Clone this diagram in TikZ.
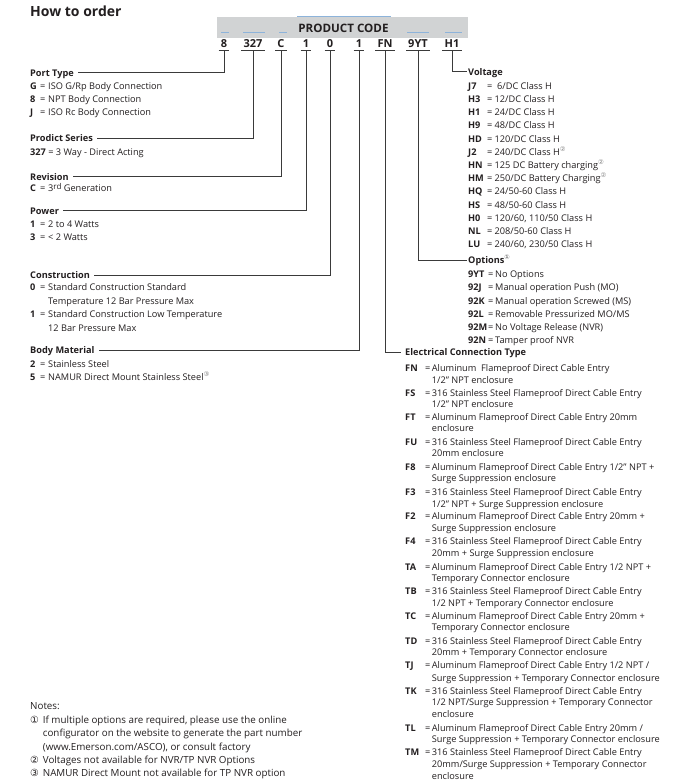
\documentclass[tikz,border=0pt]{standalone}
\usepackage{fontspec}
\setmainfont{Open Sans}
\newfontfamily\cfont{DejaVu Sans}
\definecolor{ink}{HTML}{231F20}
\definecolor{linec}{HTML}{3A3A3A}
\definecolor{band}{HTML}{D1D3D4}
\definecolor{bluel}{HTML}{8DB3DA}
\newcommand\fs{\fontsize{9.2}{11}\selectfont}
\newcommand\fsn{\fontsize{9.8}{11}\selectfont}
\newcommand\cn[1]{\textsuperscript{\textcolor{gray}{\cfont #1}}}
% name, xcode, xeq, xtext, ycenter, code, text
\newcommand\rowe[7]{%
  \node[cd] (#1c) at (#2,{#5+3.5}) {#6};
  \node[tx] (#1e) at (#3,{#5+3.5}) {=};
  \node[tx] (#1t) at (#4,{#5+3.5}) {#7};}
% name, x, ycenter, text
\newcommand\conte[4]{\node[tx] (#1) at (#2,{#3+3.5}) {#4};}
\newcommand\notee[4]{\node[tx, font=\fsn] (#1) at (#2,{#3+3.6}) {#4};}
% name, x, ycenter, text (bold label)
\newcommand\labe[4]{\node[lab] (#1) at (#2,{#3+3.35}) {#4};}
% code char: name, x center, text
\newcommand\codech[3]{\node[cc] (#1) at (#2,48) {#3};
  \draw[conn] ([yshift=-2.7pt]#1.base west) -- ([yshift=-2.7pt]#1.base east);
  \coordinate (#1u) at ([yshift=-2.7pt]#1.base);}
\begin{document}
\begin{tikzpicture}[x=1pt,y=-1pt,
  tx/.style={anchor=base west, inner sep=0pt, font=\fs, text=ink},
  cd/.style={tx, font=\fs\bfseries},
  lab/.style={anchor=base west, inner sep=0pt, font=\fs\bfseries, text=ink, text height=6.7pt, text depth=0pt},
  cc/.style={anchor=base, inner xsep=2pt, inner ysep=0pt, font=\fontsize{11}{12}\selectfont\bfseries, text=ink},
  conn/.style={draw=linec, line width=0.9pt},
  bl/.style={draw=bluel, line width=0.9pt}]
\useasboundingbox (0,0) rectangle (680,784);
\fill[white] (0,0) rectangle (680,784);

% title
\node[anchor=base west, inner sep=0pt, font=\fontsize{14}{16}\selectfont\bfseries, text=ink] (title) at (30,17) {How to order};

% product code band
\fill[band] (217,17) rectangle (468,38);
\draw[bl] (297,16) -- (391,16);
\foreach \a/\b in {221/229,243/265,279/287,407/429,445/462} \draw[bl] (\a,32) -- (\b,32);
\node[font=\fontsize{11.6}{13}\selectfont\bfseries, text=ink, inner sep=0pt, anchor=base] (pc) at (343.5,33) {PRODUCT CODE};

% code characters
\codech{k8}{224}{8}
\codech{k327}{253}{327}
\codech{kC}{281}{C}
\codech{kP}{306}{1}
\codech{kZ}{330}{0}
\codech{kB}{359}{1}
\codech{kFN}{385}{FN}
\codech{kYT}{418}{9YT}
\codech{kH}{452}{H1}

% left column
\labe{lport}{30}{72.7}{Port Type}
\rowe{pg}{30}{40}{48}{85.7}{G}{ISO G/Rp Body Connection}
\rowe{p8}{30}{40}{48}{98.7}{8}{NPT Body Connection}
\rowe{pj}{30}{40}{48}{111.7}{J}{ISO Rc Body Connection}

\labe{lser}{30}{138}{Prodict Series}
\node[tx] (s327) at (30,{151.7+3.5}) {\textbf{327} = 3 Way - Direct Acting};

\labe{lrev}{30}{176.7}{Revision}
\rowe{rc}{30}{40}{48}{187.7}{C}{3\raisebox{2pt}{\fontsize{8}{9}\selectfont rd} Generation}

\labe{lpow}{30}{210.7}{Power}
\rowe{w1}{30}{40}{48}{223.7}{1}{2 to 4 Watts}
\rowe{w3}{30}{40}{48}{237.3}{3}{< 2 Watts}

\labe{lcon}{30}{275}{Construction}
\rowe{c0}{30}{40}{48}{286.7}{0}{Standard Construction Standard}
\conte{c0b}{48}{300.7}{Temperature 12 Bar Pressure Max}
\rowe{c1}{30}{40}{48}{314.3}{1}{Standard Construction Low Temperature}
\conte{c1b}{48}{327.7}{12 Bar Pressure Max}

\labe{lbody}{30}{350}{Body Material}
\rowe{b2}{30}{40}{48}{364.3}{2}{Stainless Steel}
\rowe{b5}{30}{40}{48}{377.3}{5}{NAMUR Direct Mount Stainless Steel\cn{③}}

% voltage
\labe{lvolt}{468}{71.7}{Voltage}
\rowe{vJ7}{468}{487}{494.5}{85.7}{J7}{\hspace{2.5pt}6/DC Class H}
\rowe{vH3}{468}{487}{494.5}{98.9}{H3}{12/DC Class H}
\rowe{vH1}{468}{487}{494.5}{112.1}{H1}{24/DC Class H}
\rowe{vH9}{468}{487}{494.5}{125.3}{H9}{48/DC Class H}
\rowe{vHD}{468}{487}{494.5}{138.5}{HD}{120/DC Class H}
\rowe{vJ2}{468}{487}{494.5}{151.7}{J2}{240/DC Class H\cn{②}}
\rowe{vHN}{468}{487}{494.5}{164.9}{HN}{125 DC Battery charging\cn{②}}
\rowe{vHM}{468}{487}{494.5}{178.1}{HM}{250/DC Battery Charging\cn{②}}
\rowe{vHQ}{468}{487}{494.5}{191.3}{HQ}{24/50-60 Class H}
\rowe{vHS}{468}{487}{494.5}{204.5}{HS}{48/50-60 Class H}
\rowe{vH0}{468}{487}{494.5}{217.7}{H0}{120/60, 110/50 Class H}
\rowe{vNL}{468}{487}{494.5}{230.9}{NL}{208/50-60 Class H}
\rowe{vLU}{468}{487}{494.5}{244.1}{LU}{240/60, 230/50 Class H}

% options
\labe{lopt}{468}{260}{Options\cn{①}}
\rowe{o9}{468}{488}{495}{274.3}{9YT}{No Options}
\rowe{oJ}{468}{488}{495}{287.3}{92J}{Manual operation Push (MO)}
\rowe{oK}{468}{488}{495}{300.6}{92K}{Manual operation Screwed (MS)}
\rowe{oL}{468}{488}{495}{313.7}{92L}{Removable Pressurized MO/MS}
\rowe{oM}{468}{488}{495}{327}{92M}{No Voltage Release (NVR)}
\rowe{oN}{468}{488}{495}{340}{92N}{Tamper proof NVR}

% electrical connection type
\labe{lect}{405}{352}{Electrical Connection Type}
\rowe{eFN}{405}{425}{431.7}{368.3}{FN}{Aluminum\ \ Flameproof Direct Cable Entry}
\conte{eFNb}{431.7}{379.7}{1/2" NPT enclosure}
\rowe{eFS}{405}{425}{431.7}{392.7}{FS}{316 Stainless Steel Flameproof Direct Cable Entry}
\conte{eFSb}{431.7}{404.1}{1/2" NPT enclosure}
\rowe{eFT}{405}{425}{431.7}{416.9}{FT}{Aluminum Flameproof Direct Cable Entry 20mm}
\conte{eFTb}{431.7}{428.3}{enclosure}
\rowe{eFU}{405}{425}{431.7}{441.7}{FU}{316 Stainless Steel Flameproof Direct Cable Entry}
\conte{eFUb}{431.7}{453.1}{20mm enclosure}
\rowe{eF8}{405}{425}{431.7}{466.7}{F8}{Aluminum Flameproof Direct Cable Entry 1/2" NPT +}
\conte{eF8b}{431.7}{478.3}{Surge Suppression enclosure}
\rowe{eF3}{405}{425}{431.7}{492.3}{F3}{316 Stainless Steel Flameproof Direct Cable Entry}
\conte{eF3b}{431.7}{503.9}{1/2" NPT + Surge Suppression enclosure}
\rowe{eF2}{405}{425}{431.7}{516.4}{F2}{Aluminum Flameproof Direct Cable Entry 20mm +}
\conte{eF2b}{431.7}{527.8}{Surge Suppression enclosure}
\rowe{eF4}{405}{425}{431.7}{541.4}{F4}{316 Stainless Steel Flameproof Direct Cable Entry}
\conte{eF4b}{431.7}{552.6}{20mm + Surge Suppression enclosure}
\rowe{eTA}{405}{425}{431.7}{566.5}{TA}{Aluminum Flameproof Direct Cable Entry 1/2 NPT +}
\conte{eTAb}{431.7}{577.7}{Temporary Connector enclosure}
\rowe{eTB}{405}{425}{431.7}{591.3}{TB}{316 Stainless Steel Flameproof Direct Cable Entry}
\conte{eTBb}{431.7}{602.5}{1/2 NPT + Temporary Connector enclosure}
\rowe{eTC}{405}{425}{431.7}{616}{TC}{Aluminum Flameproof Direct Cable Entry 20mm +}
\conte{eTCb}{431.7}{627.4}{Temporary Connector enclosure}
\rowe{eTD}{405}{425}{431.7}{640.7}{TD}{316 Stainless Steel Flameproof Direct Cable Entry}
\conte{eTDb}{431.7}{652.3}{20mm + Temporary Connector enclosure}
\rowe{eTJ}{405}{425}{431.7}{665.2}{TJ}{Aluminum Flameproof Direct Cable Entry 1/2 NPT /}
\conte{eTJb}{431.7}{677.6}{Surge Suppression + Temporary Connector enclosure}
\rowe{eTK}{405}{425}{431.7}{690.7}{TK}{316 Stainless Steel Flameproof Direct Cable Entry}
\conte{eTKb}{431.7}{702.1}{1/2 NPT/Surge Suppression + Temporary Connector}
\conte{eTKc}{431.7}{713.5}{enclosure}
\rowe{eTL}{405}{425}{431.7}{727.7}{TL}{Aluminum Flameproof Direct Cable Entry 20mm /}
\conte{eTLb}{431.7}{738.9}{Surge Suppression + Temporary Connector enclosure}
\rowe{eTM}{405}{425}{431.7}{751.7}{TM}{316 Stainless Steel Flameproof Direct Cable Entry}
\conte{eTMb}{431.7}{763.7}{20mm/Surge Suppression + Temporary Connector}
\conte{eTMc}{431.7}{775.5}{enclosure}

% notes
\notee{notes}{30}{705.7}{Notes:}
\notee{n1}{30}{720}{{\cfont ①}}
\notee{n1t}{42.7}{720}{If multiple options are required, please use the online}
\notee{n1b}{42.7}{733.3}{configurator on the website to generate the part number}
\notee{n1c}{42.7}{746.6}{(www.Emerson.com/ASCO), or consult factory}
\notee{n2}{30}{759.9}{{\cfont ②}}
\notee{n2t}{42.7}{759.9}{Voltages not available for NVR/TP NVR Options}
\notee{n3}{30}{772.6}{{\cfont ③}}
\notee{n3t}{42.7}{772.6}{NAMUR Direct Mount not available for TP NVR option}

% connectors
\draw[conn] (k8u) |- ([xshift=4pt]lport.east);
\draw[conn] (k327u) |- ([xshift=4pt]lser.east);
\draw[conn] (kCu) |- ([xshift=4pt]lrev.east);
\draw[conn] (kPu) |- ([xshift=4pt]lpow.east);
\draw[conn] (kZu) |- ([xshift=4pt]lcon.east);
\draw[conn] (kBu) |- ([xshift=4pt]lbody.east);
\draw[conn] (kFNu) |- ([xshift=-4pt]lect.west);
\draw[conn] (kYTu) |- ([xshift=-1.5pt]lopt.west);
\draw[conn] (kHu) |- ([xshift=-1pt]lvolt.west);
\end{tikzpicture}
\end{document}
